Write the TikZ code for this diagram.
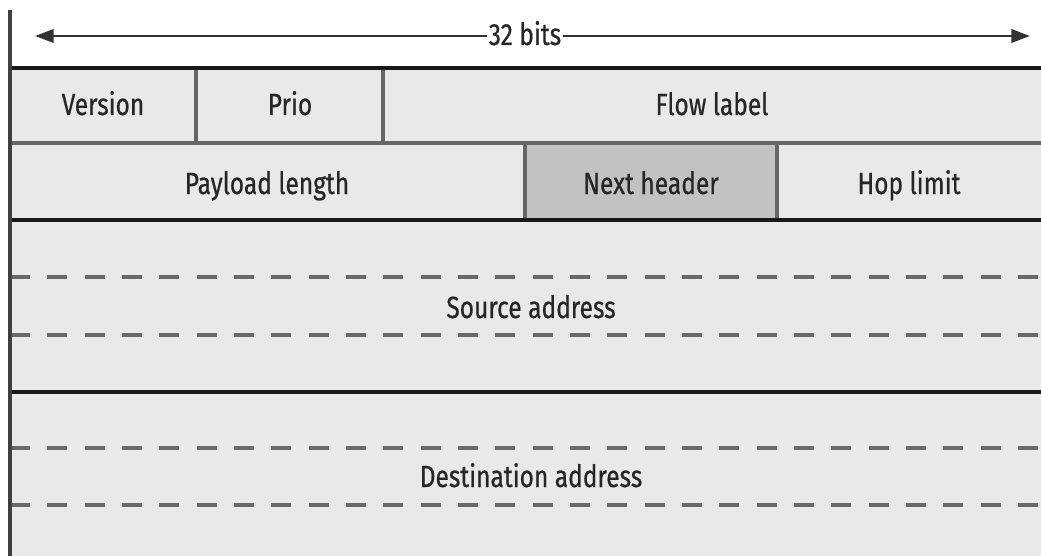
\documentclass[tikz,border=0pt]{standalone}
\usepackage{fontspec}
\setmainfont[FakeStretch=0.8,FakeBold=0.6]{Fira Sans}
\usetikzlibrary{arrows.meta}
\definecolor{cellgray}{HTML}{E9E9E9}
\definecolor{nextgray}{HTML}{C2C2C2}
\definecolor{dashgray}{HTML}{686868}
\begin{document}
\begin{tikzpicture}[x=0.75pt,y=-0.75pt,
  lbl/.style={font=\fontsize{23}{26}\selectfont,text=black!85,inner sep=0pt,anchor=base},
  rule/.style={draw=black!90,line width=2.4pt},
  sep/.style={draw=black!60,line width=2.6pt},
  addr/.style={draw=dashgray,line width=2.8pt,dash pattern=on 15pt off 13pt}]
  \useasboundingbox (0,0) rectangle (1041,556);
  \fill[cellgray] (10,68) rectangle (1041,556);
  \fill[nextgray] (525,143) rectangle (777,220);
  % field borders
  \draw[sep] (196,68) -- (196,143) (383,68) -- (383,143);
  \draw[sep] (525,143) -- (525,220) (777,143) -- (777,220);
  \draw[sep] (10,143) -- (1041,143);
  \draw[rule] (10,68) -- (1041,68) (10,220) -- (1041,220) (10,392) -- (1041,392);
  \draw[addr] (10,277) -- (1041,277) (10,335) -- (1041,335);
  \draw[addr] (10,448) -- (1041,448) (10,505) -- (1041,505);
  \draw[draw=black!75,line width=2.8pt] (10,10) -- (10,556);
  % width arrow
  \coordinate (wl) at (35,36);
  \coordinate (wr) at (1030,36);
  \node[lbl,fill=white,inner xsep=1pt] (bits) at (525,45) {32 bits};
  \draw[draw=black!80,line width=2pt,-{Triangle[length=14pt,width=10pt]}] (bits.west |- wl) -- (wl);
  \draw[draw=black!80,line width=2pt,-{Triangle[length=14pt,width=10pt]}] (bits.east |- wr) -- (wr);
  % field labels
  \node[lbl] (version) at (103,115) {Version};
  \node[lbl] (prio) at (290,115) {Prio};
  \node[lbl] (flow) at (712,115) {Flow label};
  \node[lbl] (payload) at (267,194) {Payload length};
  \node[lbl] (next) at (651,194) {Next header};
  \node[lbl] (hop) at (909,194) {Hop limit};
  \node[lbl] (src) at (531,318) {Source address};
  \node[lbl] (dst) at (531,487) {Destination address};
\end{tikzpicture}
\end{document}
